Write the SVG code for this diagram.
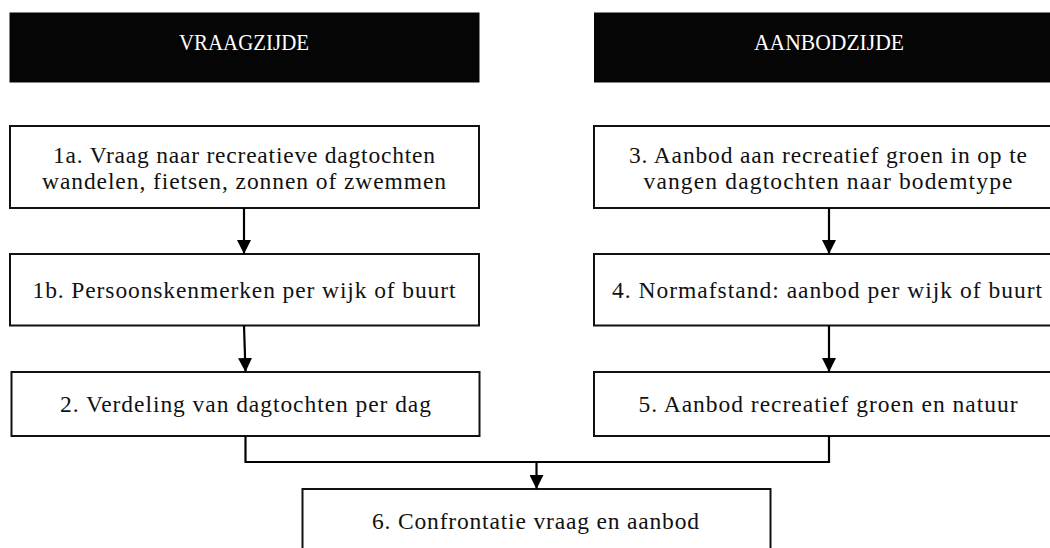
<svg xmlns="http://www.w3.org/2000/svg" width="1050" height="548" viewBox="0 0 1050 548">
  <defs>
    <marker id="arrow" viewBox="0 0 14 14" markerWidth="14" markerHeight="14" refX="14" refY="7" markerUnits="userSpaceOnUse" orient="auto">
      <path d="M0,0 L14,7 L0,14 z" fill="#000"/>
    </marker>
    <style>
      .hdr { fill: #050505; }
      .hdrtext { fill: #ffffff; font-family: "Liberation Serif", "Times New Roman", serif; font-size: 24px; text-anchor: middle; }
      .box { fill: #ffffff; stroke: #111; stroke-width: 2; }
      .txt { fill: #111; font-family: "Liberation Serif", "Times New Roman", serif; font-size: 23.5px; text-anchor: middle; }
      .conn { fill: none; stroke: #000; stroke-width: 2.2; }
    </style>
  </defs>
  <rect width="1050" height="548" fill="#ffffff"/>

  <g id="header-vraag">
    <rect class="hdr" x="9.5" y="12.5" width="470" height="70"/>
    <text class="hdrtext" x="244" y="49.5" textLength="130" lengthAdjust="spacingAndGlyphs">VRAAGZIJDE</text>
  </g>
  <g id="header-aanbod">
    <rect class="hdr" x="594" y="12.5" width="470" height="70"/>
    <text class="hdrtext" x="829" y="49.5" textLength="150" lengthAdjust="spacingAndGlyphs">AANBODZIJDE</text>
  </g>

  <g id="node-1a">
    <rect class="box" x="10" y="126" width="469" height="82"/>
    <text class="txt" x="244" y="162.5" textLength="382" lengthAdjust="spacing">1a. Vraag naar recreatieve dagtochten</text>
    <text class="txt" x="244" y="188.5" textLength="404" lengthAdjust="spacing">wandelen, fietsen, zonnen of zwemmen</text>
  </g>
  <g id="node-1b">
    <rect class="box" x="10" y="254" width="469" height="71.5"/>
    <text class="txt" x="244" y="298" textLength="423" lengthAdjust="spacing">1b. Persoonskenmerken per wijk of buurt</text>
  </g>
  <g id="node-2">
    <rect class="box" x="11.5" y="372" width="468" height="64"/>
    <text class="txt" x="245.5" y="412" textLength="371" lengthAdjust="spacing">2. Verdeling van dagtochten per dag</text>
  </g>

  <g id="node-3">
    <rect class="box" x="594" y="126" width="470" height="82"/>
    <text class="txt" x="828" y="162.5" textLength="398" lengthAdjust="spacing">3. Aanbod aan recreatief groen in op te</text>
    <text class="txt" x="828" y="188.5" textLength="369" lengthAdjust="spacing">vangen dagtochten naar bodemtype</text>
  </g>
  <g id="node-4">
    <rect class="box" x="594" y="254" width="470" height="71.5"/>
    <text class="txt" x="827" y="298" textLength="430" lengthAdjust="spacing">4. Normafstand: aanbod per wijk of buurt</text>
  </g>
  <g id="node-5">
    <rect class="box" x="594" y="372" width="470" height="64"/>
    <text class="txt" x="828" y="412" textLength="379" lengthAdjust="spacing">5. Aanbod recreatief groen en natuur</text>
  </g>

  <g id="node-6">
    <rect class="box" x="302.5" y="489" width="468" height="80"/>
    <text class="txt" x="535.5" y="529" textLength="327" lengthAdjust="spacing">6. Confrontatie vraag en aanbod</text>
  </g>

  <g id="connectors">
    <line class="conn" x1="244" y1="208" x2="244" y2="254" marker-end="url(#arrow)"/>
    <line class="conn" x1="244" y1="325.5" x2="245.5" y2="372" marker-end="url(#arrow)"/>
    <line class="conn" x1="829" y1="208" x2="829" y2="254" marker-end="url(#arrow)"/>
    <line class="conn" x1="829" y1="325.5" x2="829" y2="372" marker-end="url(#arrow)"/>
    <polyline class="conn" points="245.5,436 245.5,462 829,462 829,436"/>
    <line class="conn" x1="536.5" y1="461" x2="536.5" y2="489" marker-end="url(#arrow)"/>
  </g>
</svg>
